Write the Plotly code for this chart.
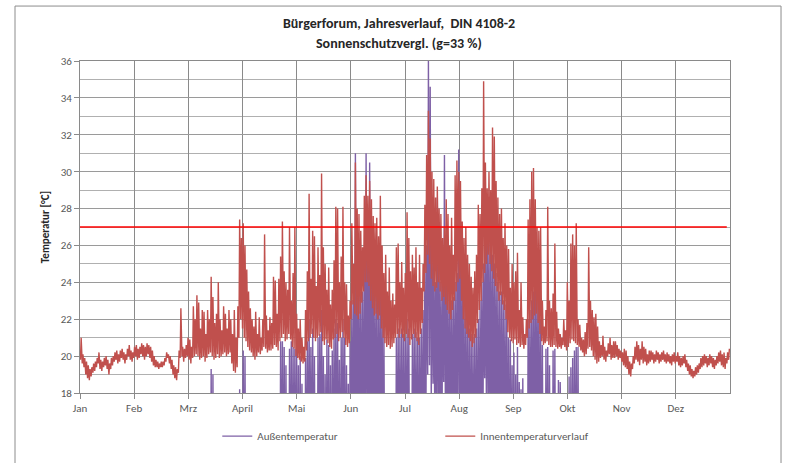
import plotly.graph_objects as go

# Month labels of the category axis (12 equal ticks over the year)
MONATE = ["Jan", "Feb", "Mrz", "April", "Mai", "Jun", "Jul", "Aug", "Sep", "Okt", "Nov", "Dez"]

# Limit value for room temperature (DIN 4108-2)
GRENZWERT = 27.0

TITEL = "Bürgerforum, Jahresverlauf,  DIN 4108-2"
UNTERTITEL = "Sonnenschutzvergl. (g=33 %)"

# Daily minimum / maximum of the room temperature [°C], day 0..364
INNEN_MIN = [
    19.8, 19.6, 19.4, 19.0, 18.8, 18.7, 18.9, 19.1, 19.2, 19.4,
    19.6, 19.3, 19.2, 19.4, 19.5, 19.3, 19.0, 19.3, 19.5, 19.7,
    19.8, 19.6, 19.7, 19.9, 19.8, 19.6, 19.8, 20.0, 19.8, 19.7,
    19.9, 20.0, 19.8, 19.9, 20.1, 20.0, 19.8, 20.0, 20.1, 19.9,
    19.7, 19.5, 19.4, 19.4, 19.3, 19.4, 19.4, 19.5, 19.7, 19.9,
    19.6, 19.3, 19.0, 18.8, 18.7, 19.1, 19.9, 20.0, 19.7, 19.9,
    20.0, 19.8, 19.6, 19.9, 20.0, 20.1, 20.0, 19.8, 19.9, 20.0,
    19.7, 19.9, 20.1, 20.2, 20.0, 19.8, 19.9, 20.1, 19.9, 20.0,
    20.1, 20.2, 20.0, 20.1, 20.2, 19.6, 19.2, 19.1, 19.4, 21.0,
    22.0, 21.5, 21.0, 20.8, 20.5, 20.3, 20.2, 20.0, 19.8, 20.0,
    20.2, 20.1, 20.3, 20.5, 20.4, 20.2, 20.3, 20.3, 20.4, 20.6,
    20.5, 20.3, 20.8, 21.0, 21.2, 20.8, 20.9, 21.2, 20.9, 20.5,
    20.4, 20.0, 19.9, 19.8, 19.7, 19.6, 19.7, 20.3, 20.8, 21.0,
    21.2, 21.0, 20.8, 21.0, 21.1, 21.3, 20.8, 20.6, 20.9, 20.7,
    20.5, 20.4, 20.9, 21.0, 21.2, 20.8, 21.0, 21.3, 21.0, 20.6,
    20.5, 20.7, 22.0, 22.8, 22.3, 22.2, 22.0, 22.3, 22.9, 23.5,
    24.0, 24.0, 23.8, 23.0, 22.6, 22.2, 22.3, 22.0, 22.2, 21.5,
    21.0, 20.7, 20.5, 20.6, 20.4, 20.5, 20.7, 21.0, 21.2, 21.0,
    21.2, 21.0, 20.8, 21.2, 21.0, 20.6, 20.9, 21.2, 21.0, 20.8,
    20.6, 21.2, 21.8, 23.5, 24.5, 25.5, 25.0, 24.2, 23.8, 23.5,
    23.7, 24.0, 23.5, 23.0, 23.2, 22.8, 22.5, 22.3, 22.0, 22.5,
    23.0, 23.5, 24.0, 24.2, 23.0, 22.0, 21.5, 21.2, 21.0, 20.8,
    20.5, 20.7, 21.0, 21.8, 22.5, 23.0, 24.0, 24.5, 25.0, 25.5,
    25.0, 24.6, 24.2, 23.8, 23.5, 23.0, 23.3, 22.8, 22.5, 22.0,
    21.3, 21.0, 20.8, 20.7, 20.9, 20.6, 20.7, 20.5, 20.6, 20.4,
    20.6, 21.0, 21.5, 21.8, 22.0, 22.2, 22.3, 21.8, 21.2, 20.8,
    20.6, 20.7, 20.8, 20.6, 20.5, 20.5, 20.6, 20.5, 20.4, 20.5,
    20.4, 20.6, 20.5, 20.3, 20.5, 20.7, 20.9, 20.8, 20.7, 20.6,
    20.5, 20.3, 20.2, 20.0, 20.1, 20.4, 20.5, 20.3, 20.0, 19.8,
    19.6, 19.7, 19.9, 20.0, 19.8, 19.7, 20.0, 20.1, 19.8, 19.9,
    19.9, 20.0, 19.8, 19.9, 19.7, 19.5, 19.4, 19.3, 19.0, 18.9,
    19.3, 19.6, 19.8, 19.7, 19.5, 19.8, 19.6, 19.7, 19.5, 19.6,
    19.7, 19.8, 19.6, 19.7, 19.8, 19.6, 19.7, 19.8, 19.7, 19.6,
    19.7, 19.6, 19.5, 19.7, 19.6, 19.7, 19.5, 19.4, 19.5, 19.6,
    19.4, 19.2, 19.0, 18.9, 18.8, 18.9, 19.0, 19.1, 19.3, 19.4,
    19.5, 19.6, 19.4, 19.5, 19.6, 19.4, 19.3, 19.5, 19.6, 19.7,
    19.5, 19.4, 19.3, 19.6, 19.8,
]
INNEN_MAX = [
    21.0, 20.1, 19.9, 19.7, 19.5, 19.3, 19.4, 19.6, 19.7, 19.9,
    20.2, 19.8, 19.7, 19.9, 20.0, 19.8, 19.6, 19.9, 20.0, 20.2,
    20.3, 20.1, 20.3, 20.4, 20.2, 20.1, 20.4, 20.6, 20.3, 20.2,
    20.5, 20.6, 20.4, 20.5, 20.7, 20.6, 20.5, 20.7, 20.6, 20.5,
    20.3, 20.0, 19.8, 19.7, 19.6, 19.7, 19.7, 19.9, 20.2, 20.1,
    20.0, 19.8, 19.5, 19.4, 19.3, 20.3, 22.6, 20.5, 20.4, 20.6,
    21.0, 20.9, 20.5, 22.7, 22.0, 23.3, 22.9, 21.5, 22.5, 22.4,
    21.2, 22.5, 22.0, 24.3, 23.2, 21.8, 22.3, 24.0, 22.0, 21.4,
    22.7, 22.3, 21.5, 22.5, 22.0, 21.2, 22.5, 21.0, 22.7, 27.4,
    26.4, 27.2, 26.0, 24.7, 23.5, 22.6, 22.0, 21.6, 22.4, 21.2,
    22.1, 21.0, 22.0, 26.6, 22.2, 21.4, 22.1, 21.8, 24.3, 24.1,
    22.3, 24.2, 25.4, 27.3, 24.6, 24.0, 23.6, 27.0, 23.0, 24.5,
    27.0, 22.3, 21.5, 22.0, 21.0, 20.5, 22.5, 24.6, 28.8, 24.2,
    26.8, 26.5, 23.8, 25.9, 24.4, 29.9, 25.9, 25.0, 23.6, 24.8,
    22.8, 23.6, 25.2, 28.1, 28.0, 24.0, 25.4, 28.1, 24.0, 23.9,
    22.2, 23.0, 27.2, 25.0, 30.5, 28.0, 27.7, 26.8, 25.9, 28.7,
    29.8, 28.7, 29.5, 28.5, 27.6, 27.2, 27.5, 26.5, 28.7, 26.0,
    24.5, 25.5, 23.5, 24.8, 23.0, 23.4, 22.8, 25.9, 26.1, 24.0,
    25.1, 23.7, 24.5, 27.8, 26.4, 24.6, 25.5, 24.8, 25.9, 24.0,
    25.5, 23.7, 25.0, 28.2, 30.9, 33.3, 31.8, 30.0, 29.6, 28.6,
    29.2, 28.0, 27.7, 26.4, 27.0, 28.5, 27.7, 26.0, 27.5, 25.5,
    29.8, 30.6, 30.0, 29.5, 27.3, 26.4, 27.0, 25.5, 25.0, 24.3,
    23.7, 24.6, 25.5, 28.2, 27.7, 29.1, 34.9, 30.5, 29.1, 30.0,
    29.0, 32.4, 31.9, 29.5, 28.6, 27.7, 28.0, 26.4, 27.2, 26.0,
    25.8, 23.7, 25.0, 24.0, 24.6, 25.6, 22.5, 24.0, 22.1, 21.2,
    22.0, 27.4, 28.5, 30.0, 30.2, 28.5, 27.0, 26.8, 27.0, 23.0,
    21.6, 22.5, 28.1, 23.0, 22.6, 23.4, 26.1, 22.4, 21.5, 21.2,
    21.0, 22.0, 21.4, 24.0, 23.0, 26.1, 26.6, 26.0, 27.2, 22.0,
    21.7, 21.0, 20.9, 21.3, 21.8, 25.9, 23.0, 22.5, 22.1, 22.3,
    21.6, 20.8, 20.6, 21.1, 20.5, 20.3, 20.7, 21.0, 20.6, 20.8,
    20.8, 20.6, 20.4, 20.3, 20.2, 20.4, 20.3, 20.0, 19.7, 19.6,
    20.0, 20.5, 20.8, 20.6, 20.4, 20.8, 20.5, 20.4, 20.1, 20.3,
    20.3, 20.2, 20.1, 20.3, 20.2, 20.1, 20.2, 20.3, 20.1, 20.2,
    20.1, 20.0, 20.1, 20.2, 20.0, 20.2, 20.0, 19.9, 20.0, 20.1,
    19.8, 19.6, 19.5, 19.3, 19.2, 19.4, 19.5, 19.6, 19.9, 20.0,
    20.1, 20.0, 19.9, 20.1, 20.0, 19.9, 19.8, 20.0, 20.2, 20.3,
    20.1, 20.2, 19.9, 20.2, 20.4,
]

# Daily minimum / maximum of the outdoor temperature [°C], day 0..364
AUSSEN_MIN = [
    -2.0, -1.0, -3.0, -4.5, -5.0, -6.0, -4.0, -3.0, -1.5, -0.5,
    0.0, -2.0, -3.0, -3.5, -2.0, -1.0, -2.5, -1.5, 0.0, 1.0,
    -0.5, -2.0, -1.0, 0.5, 1.5, 0.0, -1.0, 1.0, 2.0, 0.5,
    -0.5, 1.0, 2.5, 1.5, 0.0, 1.0, 3.0, 2.0, 1.5, 0.0,
    -1.0, -2.0, -2.5, -1.5, -1.0, 0.5, 1.0, 2.0, 3.5, 4.0,
    2.5, 1.0, -1.0, -2.0, 0.0, 3.0, 5.0, 4.0, 3.0, 4.5,
    5.0, 3.5, 2.0, 4.0, 5.5, 7.0, 6.0, 4.5, 5.0, 6.5,
    4.0, 5.5, 7.0, 9.0, 8.5, 6.0, 7.0, 8.0, 5.5, 4.5,
    6.0, 7.0, 5.0, 6.5, 8.0, 5.0, 3.0, 4.0, 6.0, 8.5,
    9.0, 10.0, 9.5, 8.0, 7.0, 6.0, 5.0, 4.5, 6.0, 5.0,
    6.0, 5.5, 7.0, 8.5, 7.0, 6.0, 7.0, 6.5, 8.0, 8.5,
    7.0, 8.5, 10.0, 10.5, 10.0, 9.5, 8.5, 10.0, 10.5, 10.0,
    10.0, 10.5, 9.5, 10.0, 9.0, 8.0, 9.5, 10.5, 11.0, 10.5,
    11.0, 10.0, 8.5, 10.5, 11.0, 12.0, 10.0, 9.5, 10.5, 10.0,
    9.5, 10.0, 11.0, 11.5, 11.0, 9.5, 10.5, 11.5, 11.0, 9.5,
    9.0, 10.5, 12.0, 12.5, 15.0, 14.0, 13.0, 12.5, 12.5, 13.5,
    15.5, 14.5, 15.0, 14.0, 13.0, 13.0, 12.5, 12.0, 13.0, 12.0,
    11.0, 9.0, 8.5, 8.0, 8.5, 8.0, 9.0, 11.0, 11.5, 11.0,
    11.5, 11.0, 11.0, 12.0, 11.5, 9.0, 11.0, 11.5, 11.0, 11.0,
    11.0, 12.0, 13.0, 15.0, 16.5, 19.0, 19.5, 17.0, 18.5, 16.0,
    17.0, 15.5, 15.0, 14.5, 18.6, 15.0, 14.0, 14.0, 13.5, 13.5,
    14.5, 15.0, 17.0, 15.5, 14.5, 13.0, 12.5, 12.0, 11.5, 11.0,
    11.0, 11.0, 11.5, 12.0, 13.0, 14.0, 15.0, 18.8, 17.0, 16.5,
    15.5, 15.0, 15.0, 14.5, 14.0, 13.5, 13.0, 13.0, 12.5, 12.0,
    11.0, 10.5, 10.0, 10.0, 9.5, 10.0, 9.0, 8.5, 9.0, 8.0,
    8.5, 11.0, 12.0, 12.0, 12.5, 12.0, 12.0, 11.5, 11.0, 10.5,
    8.0, 10.0, 10.0, 9.5, 8.0, 10.0, 10.0, 8.5, 9.0, 9.0,
    8.0, 7.0, 8.5, 8.0, 9.0, 9.5, 10.0, 10.5, 10.5, 8.0,
    7.5, 7.0, 6.0, 7.0, 6.5, 7.5, 7.0, 6.0, 5.0, 4.5,
    4.0, 5.0, 3.5, 4.5, 2.0, 3.0, 4.0, 2.5, 1.0, 2.0,
    3.0, 2.0, 1.5, 0.5, 2.0, 1.0, 0.0, -1.0, -2.0, -2.5,
    -1.0, 1.0, 2.5, 2.0, 0.5, 2.0, 1.0, 0.0, -0.5, 0.5,
    0.0, -1.0, -1.5, -0.5, -1.0, -2.0, -1.5, -1.0, -2.0, -2.5,
    -3.0, -3.5, -2.5, -2.0, -4.0, -3.0, -4.0, -5.0, -3.5, -3.0,
    -5.0, -6.0, -7.0, -8.0, -8.5, -7.5, -6.5, -5.5, -4.0, -3.0,
    -2.0, -3.0, -4.0, -2.5, -1.5, -3.0, -4.0, -3.0, -2.0, -1.0,
    -2.0, -2.5, -3.5, -2.0, -0.5,
]
AUSSEN_MAX = [
    3.5, 4.0, 2.5, 1.0, 0.5, -0.5, 1.0, 2.0, 3.5, 4.5,
    5.0, 3.0, 2.0, 1.5, 3.0, 4.0, 2.5, 3.5, 5.0, 6.0,
    4.5, 3.0, 4.0, 5.5, 6.5, 5.0, 4.0, 6.0, 7.0, 5.5,
    4.5, 6.0, 7.5, 6.5, 5.0, 6.0, 8.0, 7.0, 6.5, 5.0,
    4.0, 3.0, 2.5, 3.5, 4.0, 5.5, 6.0, 7.0, 8.5, 9.0,
    7.5, 6.0, 4.0, 3.0, 5.0, 8.0, 12.0, 10.0, 9.0, 10.5,
    11.0, 9.5, 8.0, 10.0, 12.5, 14.0, 13.0, 10.5, 12.0, 13.5,
    11.0, 12.5, 14.0, 19.3, 19.0, 13.0, 14.5, 16.0, 12.5, 11.5,
    13.0, 14.0, 12.0, 13.5, 15.0, 12.0, 10.0, 11.0, 14.0, 18.2,
    17.5, 20.3, 20.0, 17.0, 15.5, 14.0, 13.0, 12.0, 13.5, 12.5,
    14.0, 13.0, 15.0, 17.5, 15.0, 13.5, 14.5, 14.0, 16.5, 17.0,
    15.0, 17.5, 20.8, 20.8, 20.5, 19.5, 17.5, 20.4, 20.8, 20.5,
    20.4, 20.4, 19.5, 20.0, 18.5, 16.5, 19.9, 20.8, 22.0, 20.5,
    21.5, 20.0, 17.5, 21.0, 21.2, 22.5, 20.0, 19.0, 20.9, 20.6,
    19.5, 20.3, 21.5, 22.0, 21.8, 19.8, 21.0, 22.0, 21.0, 19.5,
    18.5, 20.8, 23.0, 23.5, 31.0, 27.0, 24.0, 23.5, 23.5, 25.0,
    31.0, 27.0, 30.5, 26.5, 24.0, 24.0, 23.5, 23.0, 24.0, 22.5,
    21.5, 17.5, 17.0, 16.5, 17.0, 16.8, 17.5, 21.0, 21.5, 21.2,
    21.5, 21.2, 21.0, 22.0, 21.5, 17.0, 21.2, 21.5, 21.3, 21.0,
    21.0, 21.5, 22.5, 25.0, 26.0, 36.0, 34.6, 27.0, 25.5, 24.0,
    28.6, 25.0, 24.0, 24.5, 30.9, 25.0, 23.5, 23.5, 23.0, 23.2,
    24.0, 24.5, 31.2, 25.0, 24.6, 23.0, 22.5, 22.0, 21.5, 21.2,
    21.0, 21.2, 21.5, 22.0, 23.0, 24.0, 25.0, 26.0, 27.0, 26.5,
    25.8, 25.5, 25.0, 24.5, 24.0, 23.5, 23.5, 23.0, 22.8, 22.5,
    21.0, 20.9, 19.5, 20.2, 19.0, 20.5, 18.6, 18.2, 18.8, 17.0,
    17.5, 22.0, 22.5, 23.0, 23.5, 24.0, 24.0, 23.0, 22.0, 20.6,
    17.0, 20.4, 20.5, 19.5, 17.0, 20.3, 20.4, 17.5, 18.7, 18.6,
    16.0, 15.0, 17.5, 17.0, 18.9, 19.4, 19.9, 20.3, 20.5, 20.5,
    17.0, 15.0, 14.0, 15.0, 14.5, 16.0, 15.0, 14.0, 13.0, 12.5,
    12.0, 13.0, 11.5, 12.5, 10.0, 11.0, 12.0, 10.5, 9.0, 10.0,
    11.0, 10.0, 9.0, 8.0, 9.5, 8.0, 7.0, 6.0, 5.0, 4.5,
    6.0, 8.0, 9.5, 9.0, 7.5, 9.0, 8.0, 7.0, 6.5, 7.5,
    7.0, 6.0, 5.5, 6.5, 6.0, 5.0, 5.5, 6.0, 5.0, 4.5,
    4.0, 3.5, 4.5, 5.0, 3.0, 4.0, 3.0, 2.0, 3.5, 4.0,
    2.0, 1.0, 0.0, -1.0, -1.5, -0.5, 0.5, 1.5, 3.0, 4.0,
    5.0, 4.0, 3.0, 4.5, 5.5, 4.0, 3.0, 4.0, 5.0, 6.0,
    5.0, 4.5, 3.5, 5.0, 6.5,
]

for series in (INNEN_MIN, INNEN_MAX, AUSSEN_MIN, AUSSEN_MAX):
    assert len(series) == 365

TAGE = len(INNEN_MIN)
TICK_POS = [i * TAGE / 12 for i in range(12)]


def tagesgang(tmin, tmax):
    """Daily course: early-morning minimum, afternoon maximum."""
    xs, ys = [], []
    for tag, (lo, hi) in enumerate(zip(tmin, tmax)):
        xs += [tag + 0.25, tag + 0.65]
        ys += [lo, hi]
    return xs, ys


FONT = "Carlito, Lato, Open Sans, sans-serif"
GRAU = "#595959"
DUNKEL = "#262626"

ax, ay = tagesgang(AUSSEN_MIN, AUSSEN_MAX)
ix, iy = tagesgang(INNEN_MIN, INNEN_MAX)

fig = go.Figure()
fig.add_trace(go.Scatter(
    x=ax, y=ay, mode="lines", name="Außentemperatur",
    line=dict(color="#7E60A6", width=1.4),
))
fig.add_trace(go.Scatter(
    x=ix, y=iy, mode="lines", name="Innentemperaturverlauf",
    line=dict(color="#C0504D", width=1.4),
))
fig.add_trace(go.Scatter(
    x=[0, TAGE - 1.8], y=[GRENZWERT, GRENZWERT], mode="lines",
    line=dict(color="#FF0000", width=1.6), showlegend=False, hoverinfo="skip",
))

fig.update_layout(
    width=792, height=463,
    margin=dict(l=80, r=62, t=61, b=70),
    paper_bgcolor="white", plot_bgcolor="white",
    font=dict(family=FONT, size=11, color=GRAU),
    annotations=[
        dict(text="<b>" + TITEL + "</b>", xref="paper", yref="paper",
             x=0.491, y=1.114, xanchor="center", yanchor="middle", showarrow=False,
             font=dict(family=FONT, size=14, color=DUNKEL)),
        dict(text="<b>" + UNTERTITEL + "</b>", xref="paper", yref="paper",
             x=0.491, y=1.054, xanchor="center", yanchor="middle", showarrow=False,
             font=dict(family=FONT, size=14, color=DUNKEL)),
    ],
    showlegend=True,
    legend=dict(
        orientation="h", x=0.2112, xanchor="left", y=-0.13, yanchor="middle",
        entrywidth=178, entrywidthmode="pixels",
        font=dict(family=FONT, size=11, color=GRAU),
        bgcolor="rgba(0,0,0,0)",
    ),
    shapes=[dict(
        type="rect", xref="paper", yref="paper",
        x0=-0.1, x1=1.0785, y0=-0.3, y1=1.1655,
        line=dict(color="#8c8c8c", width=1), fillcolor="rgba(0,0,0,0)", layer="below",
    )],
)

fig.update_xaxes(
    range=[0, TAGE], tickmode="array", tickvals=TICK_POS, ticktext=MONATE,
    showgrid=True, gridcolor="#8a8a8a", gridwidth=1,
    showline=True, linecolor="#8a8a8a", linewidth=1, mirror=True,
    ticks="outside", ticklen=5, tickcolor="#8a8a8a",
    tickfont=dict(family=FONT, size=11, color=GRAU),
    zeroline=False,
)
fig.update_yaxes(
    range=[18, 36], tickmode="linear", tick0=18, dtick=2,
    showgrid=True, gridcolor="#9a9a9a", gridwidth=1,
    minor=dict(dtick=1, showgrid=True, gridcolor="#b0b0b0", gridwidth=1),
    showline=True, linecolor="#8a8a8a", linewidth=1, mirror=True,
    ticks="outside", ticklen=5, tickcolor="#8a8a8a",
    tickfont=dict(family=FONT, size=11, color=GRAU),
    title=dict(text="<b>Temperatur [°C]</b>", font=dict(family=FONT, size=11, color=DUNKEL), standoff=8),
    zeroline=False,
)

fig.write_html("out.html")
